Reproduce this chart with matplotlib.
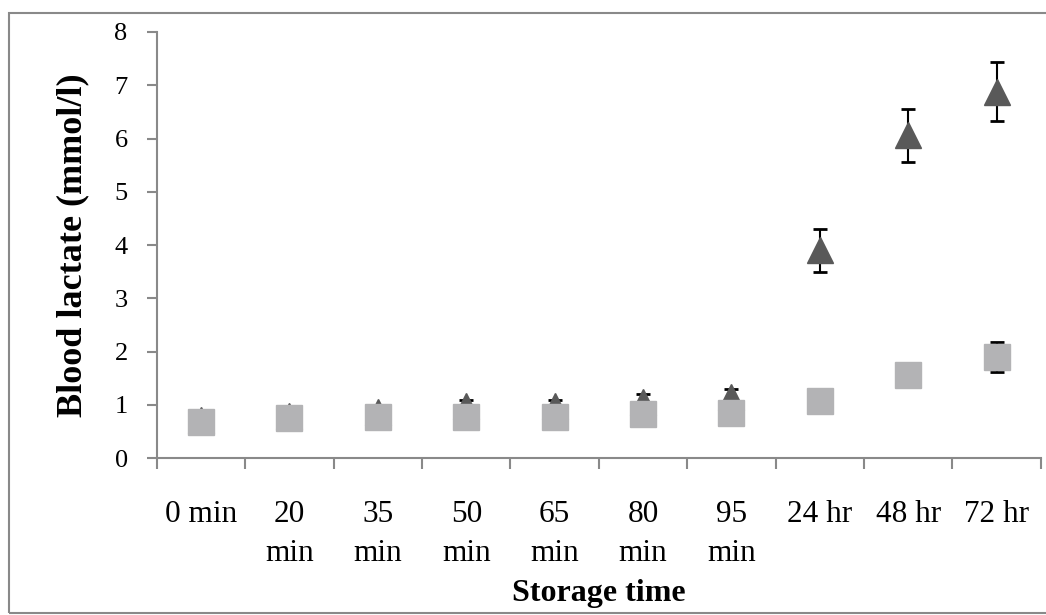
import matplotlib.pyplot as plt
from matplotlib.patches import Rectangle

plt.rcParams['font.family'] = ['Liberation Serif', 'DejaVu Serif']

categories = ["0 min", "20\nmin", "35\nmin", "50\nmin", "65\nmin",
              "80\nmin", "95\nmin", "24 hr", "48 hr", "72 hr"]
tri_mean = [0.71, 0.80, 0.86, 0.98, 0.98, 1.05, 1.15, 3.90, 6.06, 6.88]
tri_err = [0.08, 0.08, 0.10, 0.11, 0.11, 0.15, 0.15, 0.41, 0.50, 0.56]
sq_mean = [0.68, 0.75, 0.77, 0.77, 0.77, 0.83, 0.85, 1.07, 1.56, 1.90]
sq_err = [0.05, 0.05, 0.05, 0.05, 0.05, 0.05, 0.05, 0.06, 0.10, 0.28]

x = list(range(len(categories)))

fig = plt.figure(figsize=(10.46, 6.15), dpi=100)
ax = fig.add_axes([0.150, 0.255, 0.845, 0.693])

ax.errorbar(x, tri_mean, yerr=tri_err, fmt='^', color='#595959', markersize=19,
            ecolor='black', elinewidth=1.5, capsize=5, capthick=2, zorder=2)
ax.errorbar(x, sq_mean, yerr=sq_err, fmt='s', color='#b3b3b5', markersize=19,
            ecolor='black', elinewidth=1.5, capsize=5, capthick=2, zorder=3)

ax.set_xlim(-0.5, len(categories) - 0.5)
ax.set_ylim(0, 8)
ax.set_yticks(range(0, 9))
ax.set_xticks(x)
ax.set_xticklabels(categories, fontsize=22.5, linespacing=1.45)
ax.set_xticks([i - 0.5 for i in range(len(categories) + 1)], minor=True)
ax.tick_params(axis='x', which='major', length=0, pad=30)
ax.tick_params(axis='x', which='minor', length=8, width=1.5, color='#898989')
ax.tick_params(axis='y', labelsize=19, length=7, width=1.5, color='#898989', pad=14)

for side in ['top', 'right']:
    ax.spines[side].set_visible(False)
for side in ['left', 'bottom']:
    ax.spines[side].set_color('#898989')
    ax.spines[side].set_linewidth(1.5)

ax.set_ylabel("Blood lactate (mmol/l)", fontsize=26, fontweight='bold', labelpad=18)
ax.set_xlabel("Storage time", fontsize=23, fontweight='bold', labelpad=8)

fig.patches.append(Rectangle((9 / 1046, 2 / 615), 1.1, (615 - 15) / 615,
                             transform=fig.transFigure, fill=False,
                             edgecolor='#898989', linewidth=1.5))

fig.savefig("out.png", dpi=100)
